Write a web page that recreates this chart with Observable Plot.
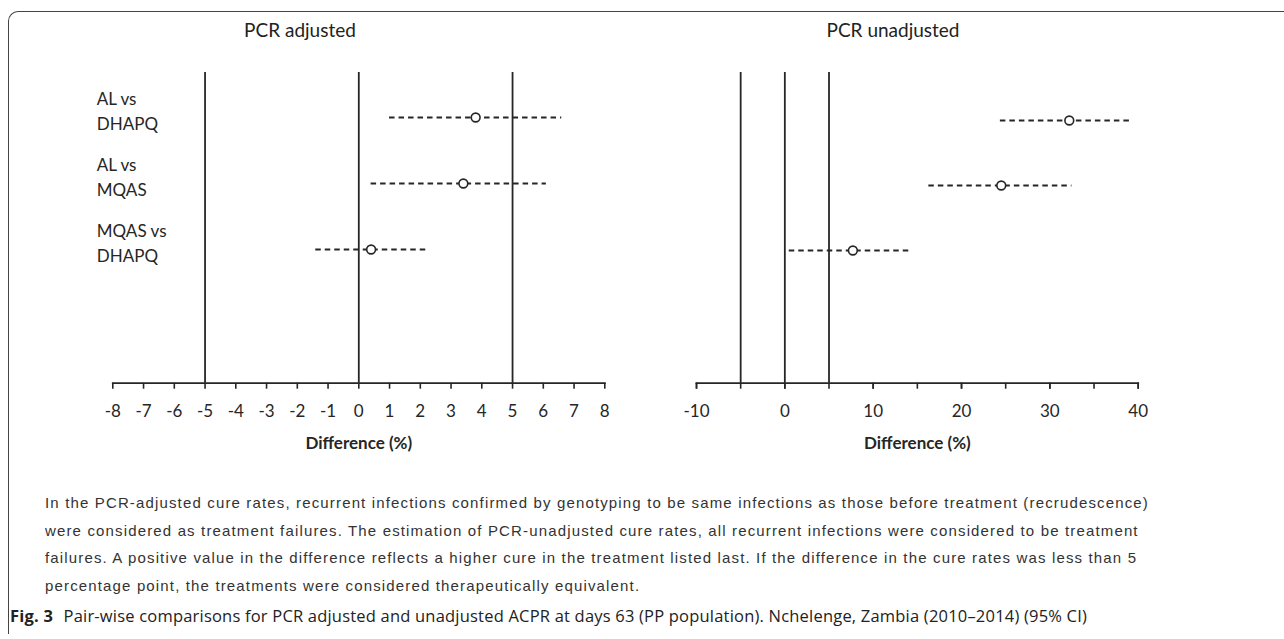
<!DOCTYPE html>
<html>
<head>
<meta charset="utf-8">
<script src="https://cdn.jsdelivr.net/npm/d3@7"></script>
<script src="https://cdn.jsdelivr.net/npm/@observablehq/plot@0.6"></script>
<style>
  html, body { margin: 0; padding: 0; background: #fff; width: 1284px; height: 639px; overflow: hidden; }
  #frame { position: absolute; left: 8px; top: 11px; width: 1290px; height: 622px;
           border-top: 1.5px solid #444; border-left: 1.5px solid #444; border-top-left-radius: 10px; }
  .title { position: absolute; top: 18px; font-family: Lato, sans-serif; font-size: 19px; color: #222; transform: translateX(-50%); white-space: nowrap; }
  #left, #right { position: absolute; top: 45px; }
  #left { left: 0; }
  #right { left: 640px; }
  #note { position: absolute; left: 45px; top: 489px; font-family: "Liberation Sans", Arial, sans-serif; font-size: 15px; color: #333; line-height: 27.5px; letter-spacing: 1.15px; white-space: nowrap; }
  #fig { position: absolute; left: 10px; top: 604px; font-family: "Open Sans", sans-serif; font-size: 16.5px; letter-spacing: 0.2px; color: #222; white-space: nowrap; }
  #fig b { font-weight: bold; margin-right: 6px; }
</style>
</head>
<body>
<div id="frame"></div>
<div class="title" style="left:300px">PCR adjusted</div>
<div class="title" style="left:893px">PCR unadjusted</div>
<div id="left"></div>
<div id="right"></div>
<div id="note">In the PCR-adjusted cure rates, recurrent infections confirmed by genotyping to be same infections as those before treatment (recrudescence)<br>were considered as treatment failures. The estimation of PCR-unadjusted cure rates, all recurrent infections were considered to be treatment<br>failures. A positive value in the difference reflects a higher cure in the treatment listed last. If the difference in the cure rates was less than 5<br>percentage point, the treatments were considered therapeutically equivalent.</div>
<div id="fig"><b>Fig. 3</b> Pair-wise comparisons for PCR adjusted and unadjusted ACPR at days 63 (PP population). Nchelenge, Zambia (2010–2014) (95% CI)</div>
<script>
// ---- data ----
const comparisons = ["AL vs\nDHAPQ", "AL vs\nMQAS", "MQAS vs\nDHAPQ"];
const adjEstimate = [3.8, 3.4, 0.4];
const adjLower = [1.0, 0.4, -1.4];
const adjUpper = [6.6, 6.1, 2.3];
const unadjEstimate = [32.2, 24.5, 7.7];
const unadjLower = [24.4, 16.3, 0.5];
const unadjUpper = [39.4, 32.5, 14.4];
const equivalenceLines = [-5, 0, 5];
const adjTicks = [-8, -7, -6, -5, -4, -3, -2, -1, 0, 1, 2, 3, 4, 5, 6, 7, 8];
const unadjTickLabels = [-10, 0, 10, 20, 30, 40];
const unadjTicks = [-10, -5, 0, 5, 10, 15, 20, 25, 30, 35, 40];
const axisTitle = "Difference (%)";

const adjRows = comparisons.map((c, i) => ({c, est: adjEstimate[i], lo: adjLower[i], hi: adjUpper[i]}));
const unadjRows = comparisons.map((c, i) => ({c, est: unadjEstimate[i], lo: unadjLower[i], hi: unadjUpper[i]}));

const ink = "#262626";
const fmt = d => String(d);
const common = (w, mL, mR, yRange) => ({
  width: w, height: 430,
  marginTop: 27, marginBottom: 92.3, marginLeft: mL, marginRight: mR,
  style: {fontFamily: "Lato, sans-serif", fontSize: "17px", color: ink, background: "transparent", overflow: "visible"},
  y: {type: "point", domain: comparisons, range: yRange, padding: 0, axis: null}
});
const ciMarks = (rows) => [
  Plot.ruleY(rows, {y: "c", x1: "lo", x2: "hi", stroke: ink, strokeWidth: 1.8, strokeDasharray: "5.5,4"}),
  Plot.dot(rows, {y: "c", x: "est", r: 4.4, stroke: ink, strokeWidth: 1.6, fill: "white"})
];

const left = Plot.plot({
  ...common(640, 112.3, 35.7, [70.7, 204.3]),
  x: {domain: [-8, 8]},
  marks: [
    Plot.ruleX(equivalenceLines, {stroke: ink, strokeWidth: 1.8}),
    Plot.frame({anchor: "bottom", stroke: ink, strokeWidth: 1.8}),
    Plot.axisX(adjTicks, {tickSize: 6, tickPadding: 16, fontSize: 17, tickFormat: fmt, label: null, stroke: ink, strokeWidth: 1.6}),
    Plot.text([axisTitle], {frameAnchor: "bottom", dy: 66, fontWeight: "bold", fontSize: 17, fill: ink}),
    Plot.text(comparisons, {y: d => d, frameAnchor: "left", textAnchor: "start", dx: -16, dy: -8, lineHeight: 1.45, fontSize: 17, fill: ink}),
    ...ciMarks(adjRows)
  ]
});
document.getElementById("left").append(left);

const right = Plot.plot({
  ...common(644, 56, 146.3, [74, 205.7]),
  x: {domain: [-10, 40]},
  marks: [
    Plot.ruleX(equivalenceLines, {stroke: ink, strokeWidth: 1.8}),
    Plot.frame({anchor: "bottom", stroke: ink, strokeWidth: 1.8}),
    Plot.axisX(unadjTicks, {tickSize: 6, text: null, label: null, stroke: ink, strokeWidth: 1.6}),
    Plot.axisX(unadjTickLabels, {tickSize: 6, tickPadding: 16, fontSize: 17, tickFormat: fmt, label: null, stroke: ink, strokeWidth: 1.6}),
    Plot.text([axisTitle], {frameAnchor: "bottom", dy: 66, fontWeight: "bold", fontSize: 17, fill: ink}),
    ...ciMarks(unadjRows)
  ]
});
document.getElementById("right").append(right);
</script>
</body>
</html>
